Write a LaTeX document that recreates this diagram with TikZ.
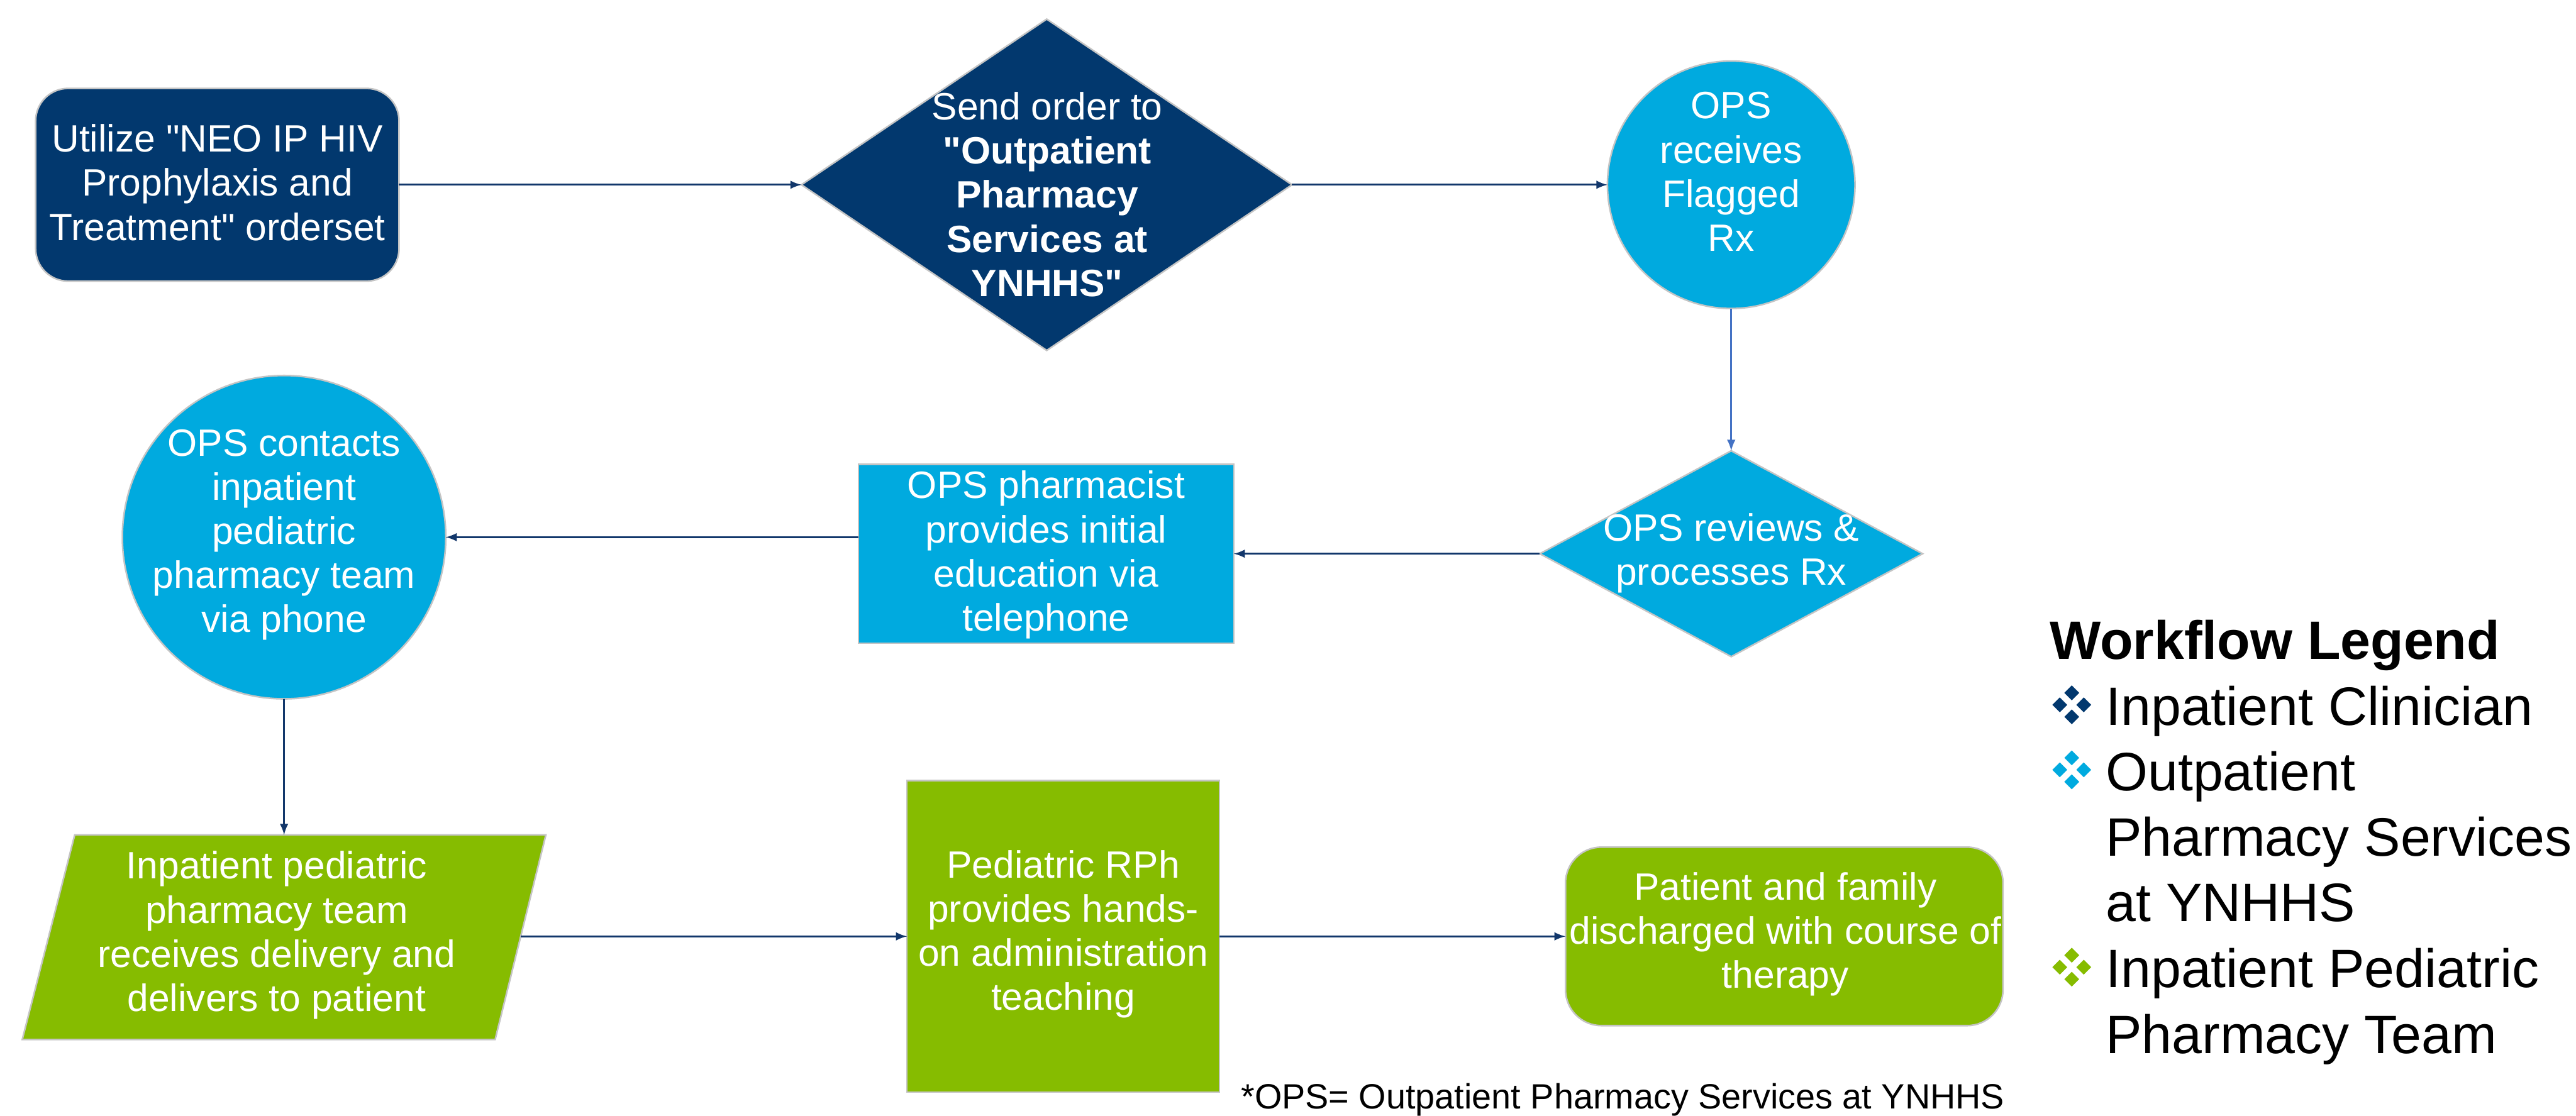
\documentclass[tikz,border=0pt]{standalone}
\usepackage{fontspec}
\setmainfont{Liberation Sans}[Ligatures=TeXOff]
\usepackage{xcolor}
\usetikzlibrary{arrows}
\usetikzlibrary{shapes.geometric}

\definecolor{navyfill}{HTML}{02386E}
\definecolor{opsblue}{HTML}{00AADF}
\definecolor{pedsgreen}{HTML}{86BC00}
\definecolor{linknavy}{HTML}{12376B}
\definecolor{linkblue}{HTML}{4472C4}
\definecolor{edgegray}{HTML}{C4C4C4}

\tikzset{
  stepshape/.style={draw=edgegray, line width=0.8pt, inner sep=0pt, outer sep=0pt},
  steptext/.style={text=white, align=center, font=\fontsize{19}{22}\selectfont},
  legendtext/.style={anchor=base west, inner sep=0pt, font=\fontsize{27}{33}\selectfont},
  flow/.style={->, >=latex, line width=0.9pt, linknavy},
  pics/quad/.style={code={
    \foreach \dx/\dy in {0/0.21,-0.21/0,0.21/0,0/-0.21}
      \fill[#1] (\dx,\dy) +(-0.13,0) -- +(0,0.13) -- +(0.13,0) -- +(0,-0.13) -- cycle;
  }}
}

\begin{document}
\begin{tikzpicture}
\path[fill=white] (0,0) rectangle (45.16,-19.57);

% top row: order entry
\node[stepshape, rectangle, rounded corners=0.57cm, fill=navyfill, minimum width=6.37cm, minimum height=3.38cm] (orderset) at (3.81,-3.24) {};
\node[steptext] (orderset-t) at (3.81,-3.20) {Utilize "NEO IP HIV\\Prophylaxis and\\Treatment" orderset};

\node[stepshape, diamond, fill=navyfill, minimum width=8.6cm, minimum height=5.81cm] (send) at (18.35,-3.24) {};
\node[steptext] (send-t) at (18.36,-3.41) {Send order to\\\textbf{"Outpatient}\\\textbf{Pharmacy}\\\textbf{Services at}\\\textbf{YNHHS"}};

\node[stepshape, circle, fill=opsblue, minimum size=4.34cm] (receive) at (30.35,-3.24) {};
\node[steptext] (receive-t) at (30.35,-3.01) {OPS\\receives\\Flagged\\Rx};

% middle row: outpatient pharmacy
\node[stepshape, diamond, fill=opsblue, minimum width=6.71cm, minimum height=3.61cm] (review) at (30.35,-9.71) {};
\node[steptext] (review-t) at (30.35,-9.70) {OPS reviews \&\\processes Rx};

\node[stepshape, rectangle, fill=opsblue, minimum width=6.58cm, minimum height=3.14cm] (educate) at (18.34,-9.71) {};
\node[steptext] (educate-t) at (18.34,-9.73) {OPS pharmacist\\provides initial\\education via\\telephone};

\node[stepshape, circle, fill=opsblue, minimum size=5.67cm] (contact) at (4.98,-9.42) {};
\node[steptext] (contact-t) at (4.98,-9.38) {OPS contacts\\inpatient\\pediatric\\pharmacy team\\via phone};

% bottom row: inpatient pediatric pharmacy
\draw[stepshape, fill=pedsgreen] (1.31,-14.64) coordinate (deliver-nw) -- (9.57,-14.64) -- (8.68,-18.23) -- (0.39,-18.23) -- cycle;
\coordinate (deliver-east) at (9.125,-16.42);
\node[steptext] (deliver-t) at (4.85,-16.40) {Inpatient pediatric\\pharmacy team\\receives delivery and\\delivers to patient};

\node[stepshape, rectangle, fill=pedsgreen, minimum width=5.48cm, minimum height=5.46cm] (teach) at (18.64,-16.42) {};
\node[steptext] (teach-t) at (18.64,-16.38) {Pediatric RPh\\provides hands-\\on administration\\teaching};

\node[stepshape, rectangle, rounded corners=0.63cm, fill=pedsgreen, minimum width=7.67cm, minimum height=3.13cm] (discharge) at (31.28,-16.42) {};
\node[steptext] (discharge-t) at (31.30,-16.38) {Patient and family\\discharged with course of\\therapy};

% connectors
\draw[flow] (orderset.east) -- (send.west);
\draw[flow] (send.east) -- (receive.west);
\draw[flow, linkblue] (receive.south) -- (review.north);
\draw[flow] (review.west) -- (educate.east);
\draw[flow] (educate.west |- contact.east) -- (contact.east);
\draw[flow] (contact.south) -- (contact.south |- deliver-nw);
\draw[flow] (deliver-east) -- (teach.west);
\draw[flow] (teach.east) -- (discharge.west);

\node[anchor=base west, inner sep=0pt, font=\fontsize{17.5}{21}\selectfont] (note) at (21.75,-19.44) {*OPS= Outpatient Pharmacy Services at YNHHS};

% legend
\node[legendtext, font=\fontsize{27}{33}\selectfont\bfseries] (legend) at (35.93,-11.56) {Workflow Legend};
\pic at (36.32,-12.36) {quad=navyfill};
\node[legendtext] (leg-clin) at (36.91,-12.72) {Inpatient Clinician};
\pic at (36.32,-13.50) {quad=opsblue};
\node[legendtext] (leg-ops1) at (36.91,-13.86) {Outpatient};
\node[legendtext] (leg-ops2) at (36.91,-15.01) {Pharmacy Services};
\node[legendtext] (leg-ops3) at (36.91,-16.16) {at YNHHS};
\pic at (36.32,-16.96) {quad=pedsgreen};
\node[legendtext] (leg-peds1) at (36.91,-17.32) {Inpatient Pediatric};
\node[legendtext] (leg-peds2) at (36.91,-18.47) {Pharmacy Team};
\end{tikzpicture}
\end{document}
